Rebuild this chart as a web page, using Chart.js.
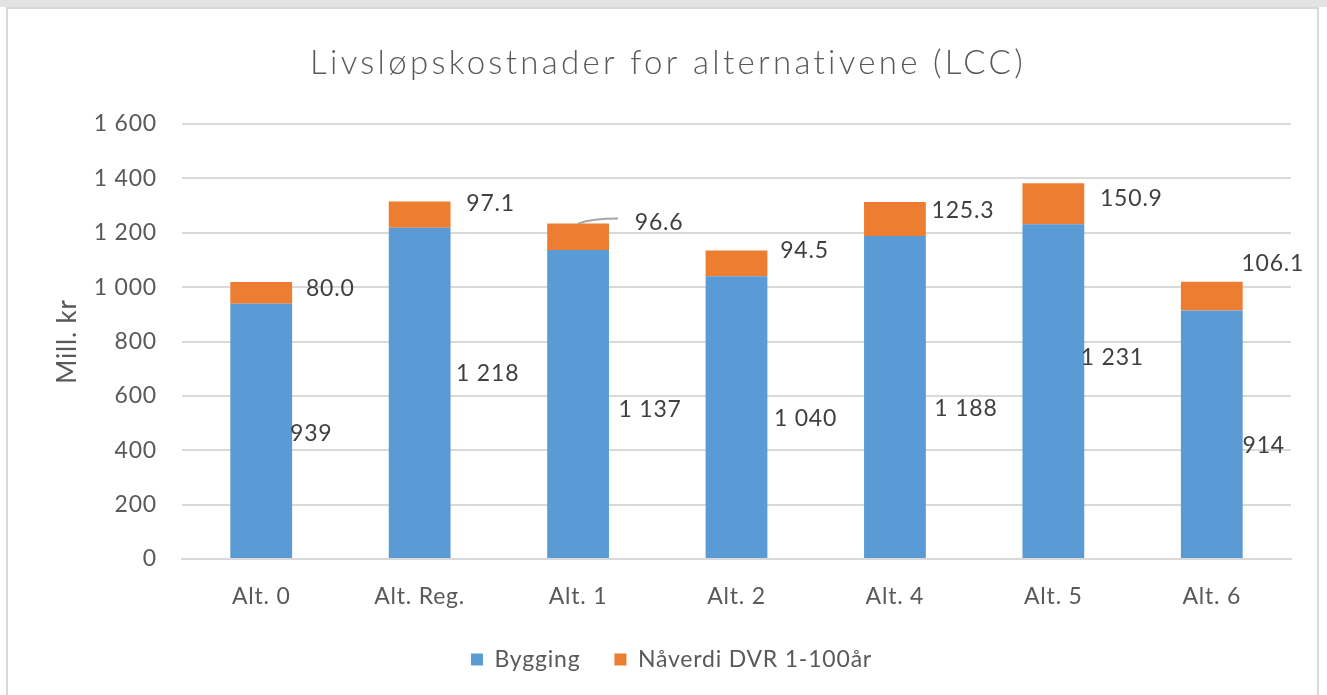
<!DOCTYPE html>
<html>
<head>
<meta charset="utf-8">
<script src="https://cdn.jsdelivr.net/npm/chart.js@4/dist/chart.umd.min.js"></script>
<style>
  html, body { margin: 0; padding: 0; background: #ffffff; width: 1327px; height: 695px; overflow: hidden; }
  #topband { position: absolute; left: 0; top: 0; width: 1327px; height: 7px; background: #e3e3e3; }
  #frame { position: absolute; left: 6px; top: 7px; width: 1313px; height: 700px; border: 2px solid #d9d9d9; box-sizing: border-box; }
  #wrap { position: absolute; left: 0; top: 0; width: 1327px; height: 695px; }
</style>
</head>
<body>
<div id="topband"></div>
<div id="frame"></div>
<div id="wrap"><canvas id="c" width="1327" height="695"></canvas></div>
<script>
// ---- data ----
const categories = ["Alt. 0", "Alt. Reg.", "Alt. 1", "Alt. 2", "Alt. 4", "Alt. 5", "Alt. 6"];
const bygging = [939, 1218, 1137, 1040, 1188, 1231, 914];
const naverdi = [80.0, 97.1, 96.6, 94.5, 125.3, 150.9, 106.1];
const seriesNames = ["Bygging", "Nåverdi DVR 1-100år"];
const yTicks = [0, 200, 400, 600, 800, 1000, 1200, 1400, 1600];
const titleText = "Livsløpskostnader for alternativene (LCC)";

// ---- label placement (manually moved labels in the original) ----
// horizontal offset in px from bar centre, vertical anchor as a value on the y axis
const byggingLabelDx = [50, 68, 72, 69, 71, 59, 52];
const byggingLabelAt = [461, 682, 549, 516, 553, 741, 417];
const naverdiLabelDx = [69, 71, 81, 68, 68, 78, 61];
const naverdiLabelAt = [995, 1309, 1239, 1135, 1283, 1327, 1088];
const naverdiLeader = [false, false, true, false, false, false, false];

const TEXT = '#595959';
const GRID = '#d9d9d9';
const FONT = 'Lato, "Open Sans", sans-serif';
const SPACING = '0.8px';

function fmtNo(v) {
  const s = Math.round(v).toString();
  return s.replace(/\B(?=(\d{3})+(?!\d))/g, '\u00a0');
}

const spacingPlugin = {
  id: 'spacing',
  beforeUpdate(chart) { chart.ctx.letterSpacing = SPACING; },
  beforeDraw(chart) { chart.ctx.letterSpacing = SPACING; }
};

const titlePlugin = {
  id: 'customTitle',
  afterDraw(chart) {
    const ctx = chart.ctx;
    ctx.save();
    ctx.letterSpacing = '3.3px';
    ctx.font = '300 33px ' + FONT;
    ctx.fillStyle = TEXT;
    ctx.textAlign = 'center';
    ctx.textBaseline = 'middle';
    ctx.fillText(titleText, 668, 63);
    ctx.restore();
  }
};

const labelPlugin = {
  id: 'customLabels',
  afterDatasetsDraw(chart) {
    const ctx = chart.ctx;
    const y = chart.scales.y;
    ctx.save();
    ctx.font = '23px ' + FONT;
    ctx.fillStyle = '#404040';
    ctx.textAlign = 'center';
    ctx.textBaseline = 'middle';
    const m0 = chart.getDatasetMeta(0);
    const m1 = chart.getDatasetMeta(1);
    m0.data.forEach((el, i) => {
      ctx.fillText(fmtNo(bygging[i]), el.x + byggingLabelDx[i], y.getPixelForValue(byggingLabelAt[i]));
    });
    m1.data.forEach((el, i) => {
      const lx = el.x + naverdiLabelDx[i];
      const ly = y.getPixelForValue(naverdiLabelAt[i]);
      if (naverdiLeader[i]) {
        ctx.save();
        ctx.strokeStyle = '#a6a6a6';
        ctx.lineWidth = 2;
        ctx.beginPath();
        ctx.moveTo(el.x, el.y);
        ctx.quadraticCurveTo(el.x + 14, el.y - 5, el.x + 40, el.y - 5);
        ctx.stroke();
        ctx.restore();
      }
      ctx.fillText(naverdi[i].toFixed(1), lx, ly);
    });
    ctx.restore();
  }
};

new Chart(document.getElementById('c'), {
  type: 'bar',
  data: {
    labels: categories,
    datasets: [
      { label: seriesNames[0], data: bygging, backgroundColor: '#5B9BD5', borderWidth: 0 },
      { label: seriesNames[1], data: naverdi, backgroundColor: '#ED7D31', borderWidth: 0 }
    ]
  },
  options: {
    responsive: false,
    animation: false,
    devicePixelRatio: 1,
    barPercentage: 0.39,
    categoryPercentage: 1.0,
    layout: { padding: { left: 52, right: 36, top: 124, bottom: 14 } },
    plugins: {
      tooltip: { enabled: false },
      title: { display: false },
      legend: {
        position: 'bottom',
        labels: {
          color: TEXT,
          font: { family: FONT, size: 23 },
          boxWidth: 12,
          boxHeight: 12,
          padding: 34
        }
      }
    },
    scales: {
      x: {
        stacked: true,
        grid: { display: false, drawTicks: false },
        border: { display: true, color: GRID, width: 2 },
        ticks: { color: TEXT, font: { family: FONT, size: 23 }, padding: 24 },
        afterFit(scale) { scale.height = 55; }
      },
      y: {
        stacked: true,
        min: 0,
        max: 1600,
        afterBuildTicks(scale) { scale.ticks = yTicks.map(v => ({ value: v })); },
        grid: { color: GRID, lineWidth: 2, drawTicks: false },
        border: { display: false },
        ticks: { color: TEXT, font: { family: FONT, size: 23 }, padding: 25, callback: v => fmtNo(v) },
        title: { display: true, text: 'Mill. kr', color: TEXT, font: { family: FONT, size: 26 }, padding: { top: 0, bottom: 10 } },
        afterFit(scale) { scale.width = 130; }
      }
    }
  },
  plugins: [spacingPlugin, labelPlugin, titlePlugin]
});
</script>
</body>
</html>
